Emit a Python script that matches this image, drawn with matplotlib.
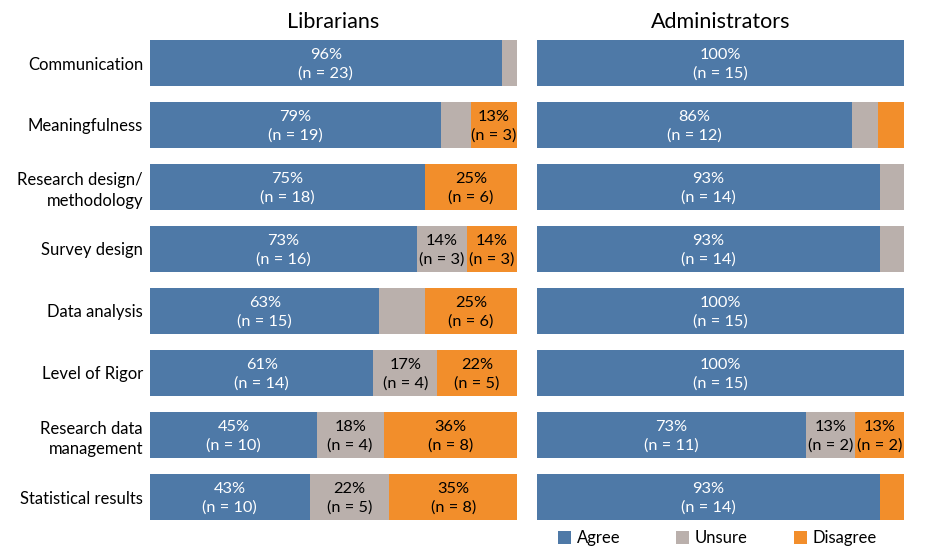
import matplotlib
matplotlib.use("Agg")
import matplotlib.pyplot as plt
from matplotlib.patches import Rectangle

plt.rcParams['font.family'] = ['Lato', 'DejaVu Sans']

## data: counts per response ##
topics = ["Communication", "Meaningfulness", "Research design/\nmethodology",
          "Survey design", "Data analysis", "Level of Rigor",
          "Research data\nmanagement", "Statistical results"]
responses = ["Agree", "Unsure", "Disagree"]

lib_agree = [23, 19, 18, 16, 15, 14, 10, 10]
lib_unsure = [1, 2, 0, 3, 3, 4, 4, 5]
lib_disagree = [0, 3, 6, 3, 6, 5, 8, 8]

adm_agree = [15, 12, 14, 14, 15, 15, 11, 14]
adm_unsure = [0, 1, 1, 1, 0, 0, 2, 0]
adm_disagree = [0, 1, 0, 0, 0, 0, 2, 1]

## labels Tableau dropped even though the segment was wide enough ##
hidden_labels = {("Librarians", "Data analysis", "Unsure")}

colors = {"Agree": "#4E79A7", "Unsure": "#BAB0AC", "Disagree": "#F28E2B"}
text_colors = {"Agree": "white", "Unsure": "black", "Disagree": "black"}

W, H = 935, 559


def px_box(x0, y0, x1, y1):
    return [x0 / W, 1 - y1 / H, (x1 - x0) / W, (y1 - y0) / H]


def draw_panel(ax, name, series):
    totals = [sum(vals) for vals in zip(*series)]
    left = [0.0] * len(topics)
    for resp, counts in zip(responses, series):
        shares = [c / t for c, t in zip(counts, totals)]
        ax.barh(range(len(topics)), shares, left=left, height=0.73,
                color=colors[resp], linewidth=0)
        for i, (s, c) in enumerate(zip(shares, counts)):
            if s >= 0.12 and (name, topics[i], resp) not in hidden_labels:
                pct = int(100 * s + 0.5)
                ax.text(left[i] + s / 2, i + 0.02, f"{pct}%\n(n = {c})",
                        ha="center", va="center", fontsize=11.8,
                        color=text_colors[resp], linespacing=1.45)
        left = [l + s for l, s in zip(left, shares)]

    ax.set_xlim(0, 1)
    ax.set_ylim(len(topics) - 0.5, -0.5)
    ax.set_xticks([])
    for sp in ax.spines.values():
        sp.set_visible(False)
    ax.set_title(name, fontsize=15.5, pad=1)


fig = plt.figure(figsize=(W / 100, H / 100), dpi=100)

ax_lib = fig.add_axes(px_box(150, 32, 517, 528))
draw_panel(ax_lib, "Librarians", [lib_agree, lib_unsure, lib_disagree])
ax_lib.set_yticks(range(len(topics)))
ax_lib.set_yticklabels(topics, fontsize=12, ha="right", linespacing=1.35)
ax_lib.tick_params(axis="y", length=0, pad=5)

ax_adm = fig.add_axes(px_box(537, 32, 904, 528))
draw_panel(ax_adm, "Administrators", [adm_agree, adm_unsure, adm_disagree])
ax_adm.set_yticks([])

## legend laid out like Tableau: fixed-width columns ##
for i, resp in enumerate(responses):
    x0 = 558 + i * 118
    fig.patches.append(Rectangle((x0 / W, 1 - 544 / H), 13 / W, 13 / H,
                                 transform=fig.transFigure,
                                 color=colors[resp], linewidth=0))
    fig.text((x0 + 19) / W, 1 - 538 / H, resp, fontsize=12,
             ha="left", va="center")

fig.savefig("out.png", dpi=100)
